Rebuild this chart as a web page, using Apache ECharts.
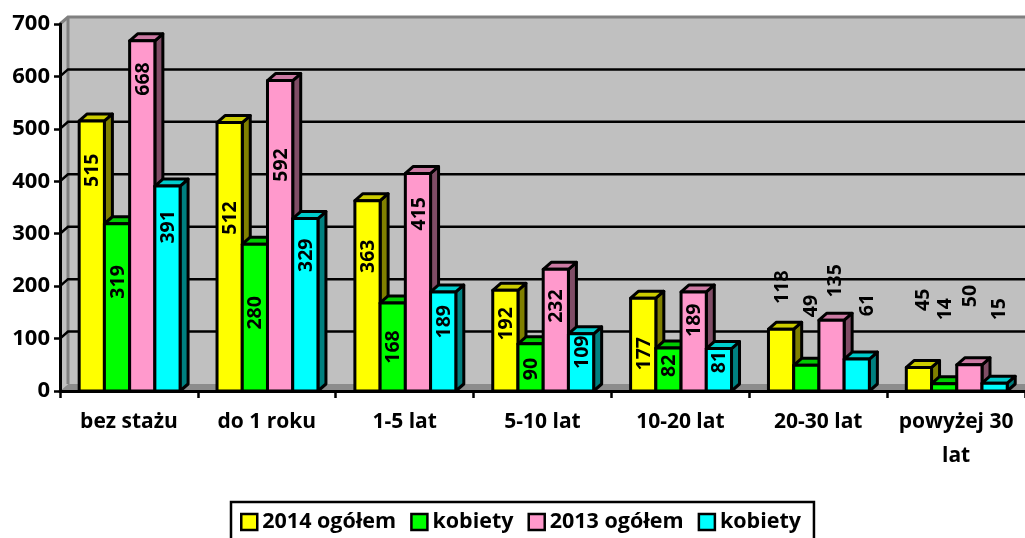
<!DOCTYPE html>
<html><head><meta charset="utf-8">
<style>html,body{margin:0;padding:0;background:#fff;overflow:hidden}#c{width:1025px;height:538px}</style>
<script src="https://cdn.jsdelivr.net/npm/echarts@6/dist/echarts.min.js"></script>
</head><body><div id="c"></div>
<script>
const categories = ['bez stażu','do 1 roku','1-5 lat','5-10 lat','10-20 lat','20-30 lat','powyżej 30\nlat'];
const yTicks = [0,100,200,300,400,500,600,700];
const names = ['2014 ogółem','kobiety','2013 ogółem','kobiety '];
const total2014 = [515,512,363,192,177,118,45];
const women2014 = [319,280,168,90,82,49,14];
const total2013 = [668,592,415,232,189,135,50];
const women2013 = [391,329,189,109,81,61,15];
// Where each value label sits, on the value scale
const labelAt2014 = [421,330,257,128,71,198,174];
const labelAtW2014 = [208,149,84,42,48,162,156];
const labelAt2013 = [595,431,338,162,135,210,181];
const labelAtW2013 = [313,259,132,74,55,164,156];
// Sideways nudge of each value label, as a share of one bar width
const labelNudge2014 = [0,0,0,0,0,0,0.15];
const labelNudgeW2014 = [0,0,0,0,0,0.15,0];
const labelNudge2013 = [0,0,0,0,0,0.1,0];
const labelNudgeW2013 = [0,0,0,0,0,0.4,0.15];

const DX = 8, DY = 7, FONT = '"Open Sans", sans-serif';
const palette = [
  {front:'#FFFF00', side:'#808000', top:'#CCCC00'},
  {front:'#00FF00', side:'#008000', top:'#00CC00'},
  {front:'#FF99CC', side:'#804D66', top:'#CC7AA3'},
  {front:'#00FFFF', side:'#008080', top:'#00CCCC'}
];
const seriesValues = [total2014, women2014, total2013, women2013];
const seriesLabels = [labelAt2014, labelAtW2014, labelAt2013, labelAtW2013];
const seriesNudges = [labelNudge2014, labelNudgeW2014, labelNudge2013, labelNudgeW2013];

function poly(points, fill, stroke, lw){
  return {type:'polygon', shape:{points}, style:{fill, stroke:stroke||'none', lineWidth:lw||0, lineJoin:'round'}};
}
function wallItem(params, api){
  const v = api.value(0);
  const p = api.coord([0, v]);
  const x0 = params.coordSys.x, x1 = x0 + params.coordSys.width, y = p[1];
  const kids = [];
  if (params.dataIndex === 0) {
    const top = api.coord([0, yTicks[yTicks.length-1]])[1];
    kids.push(poly([[x0,y],[x0+DX,y-DY],[x0+DX,top-DY],[x0,top]], '#C0C0C0'));
    kids.push(poly([[x0+DX,y-DY],[x1,y-DY],[x1,top-DY],[x0+DX,top-DY]], '#C0C0C0'));
    kids.push(poly([[x0,y],[x0+DX,y-DY],[x1,y-DY],[x1,y]], '#8C8C8C'));
    kids.push({type:'polyline', shape:{points:[[x0+DX,y-DY],[x0+DX,top-DY]]}, style:{stroke:'#808080', lineWidth:3, fill:'none'}});
    return {type:'group', children:kids};
  }
  const last = params.dataIndex === yTicks.length-1;
  kids.push({type:'polyline', shape:{points:[[x0,y],[x0+DX,y-DY],[x1,y-DY]]},
    style:{stroke:last?'#808080':'#000', lineWidth:last?3:2.5, fill:'none'}});
  return {type:'group', children:kids};
}
function barRenderer(si){
  return function(params, api){
    const cat = api.value(0), val = api.value(1), lab = api.value(2), nudge = api.value(3);
    const base = api.coord([cat, 0]), topP = api.coord([cat, val]);
    const w = api.size([1,0])[0] * 0.183;
    const l = base[0] + (si-2)*w + 0.7, r = l + w, b = base[1], t = topP[1];
    const c = palette[si];
    const kids = [
      poly([[r,b],[r+DX,b-DY],[r+DX,t-DY],[r,t]], c.side, '#000', 3),
      poly([[l,t],[l+DX,t-DY],[r+DX,t-DY],[r,t]], c.top, '#000', 3),
      poly([[l,b],[r,b],[r,t],[l,t]], c.front, '#000', 3),
      {type:'text', x:l+w/2+1+nudge*w, y:api.coord([cat, lab])[1], rotation:Math.PI/2,
        style:{text:String(val), fill:'#000', font:'bold 19.5px '+FONT, align:'center', verticalAlign:'middle'}}
    ];
    return {type:'group', children:kids};
  };
}
const series = [{
  type:'custom', silent:true, z:1, renderItem:wallItem, clip:false,
  encode:{x:-1,y:0}, data:yTicks.map(v=>[v])
}];
names.forEach((n,si)=>{
  series.push({
    type:'custom', name:n, z:2+si, clip:false, renderItem:barRenderer(si), silent:true,
    itemStyle:{color:palette[si].front},
    encode:{x:0,y:1},
    data:categories.map((_,i)=>[i, seriesValues[si][i], seriesLabels[si][i], seriesNudges[si][i]])
  });
});
const chart = echarts.init(document.getElementById('c'), null, {renderer:'canvas'});
chart.setOption({
  animation:false,
  backgroundColor:'#fff',
  grid:{left:60, top:24, width:966, height:367, containLabel:false},
  legend:{
    data:names, left:231, top:502, orient:'horizontal', icon:'rect', selectedMode:false,
    itemWidth:16, itemHeight:16, itemGap:14,
    padding:[9,13,12,9], borderColor:'#000', borderWidth:2.5, backgroundColor:'#fff',
    itemStyle:{borderColor:'#000', borderWidth:2.5},
    textStyle:{color:'#000', fontFamily:FONT, fontWeight:'bold', fontSize:21.5},
    formatter:n=>n.trim()
  },
  xAxis:{type:'category', data:categories, boundaryGap:true, z:5,
    axisLine:{show:true, lineStyle:{color:'#000', width:3}},
    axisTick:{show:true, alignWithLabel:false, length:7, lineStyle:{color:'#000', width:2.5}},
    axisLabel:{color:'#000', fontFamily:FONT, fontWeight:'bold', fontSize:21, margin:14, lineHeight:34, interval:0}
  },
  yAxis:{type:'value', min:0, max:700, interval:100, z:5,
    axisLine:{show:true, lineStyle:{color:'#000', width:3}},
    axisTick:{show:true, length:6, lineStyle:{color:'#000', width:2.5}},
    splitLine:{show:false},
    axisLabel:{color:'#000', fontFamily:FONT, fontWeight:'bold', fontSize:22, margin:10}
  },
  series
});
</script></body></html>
